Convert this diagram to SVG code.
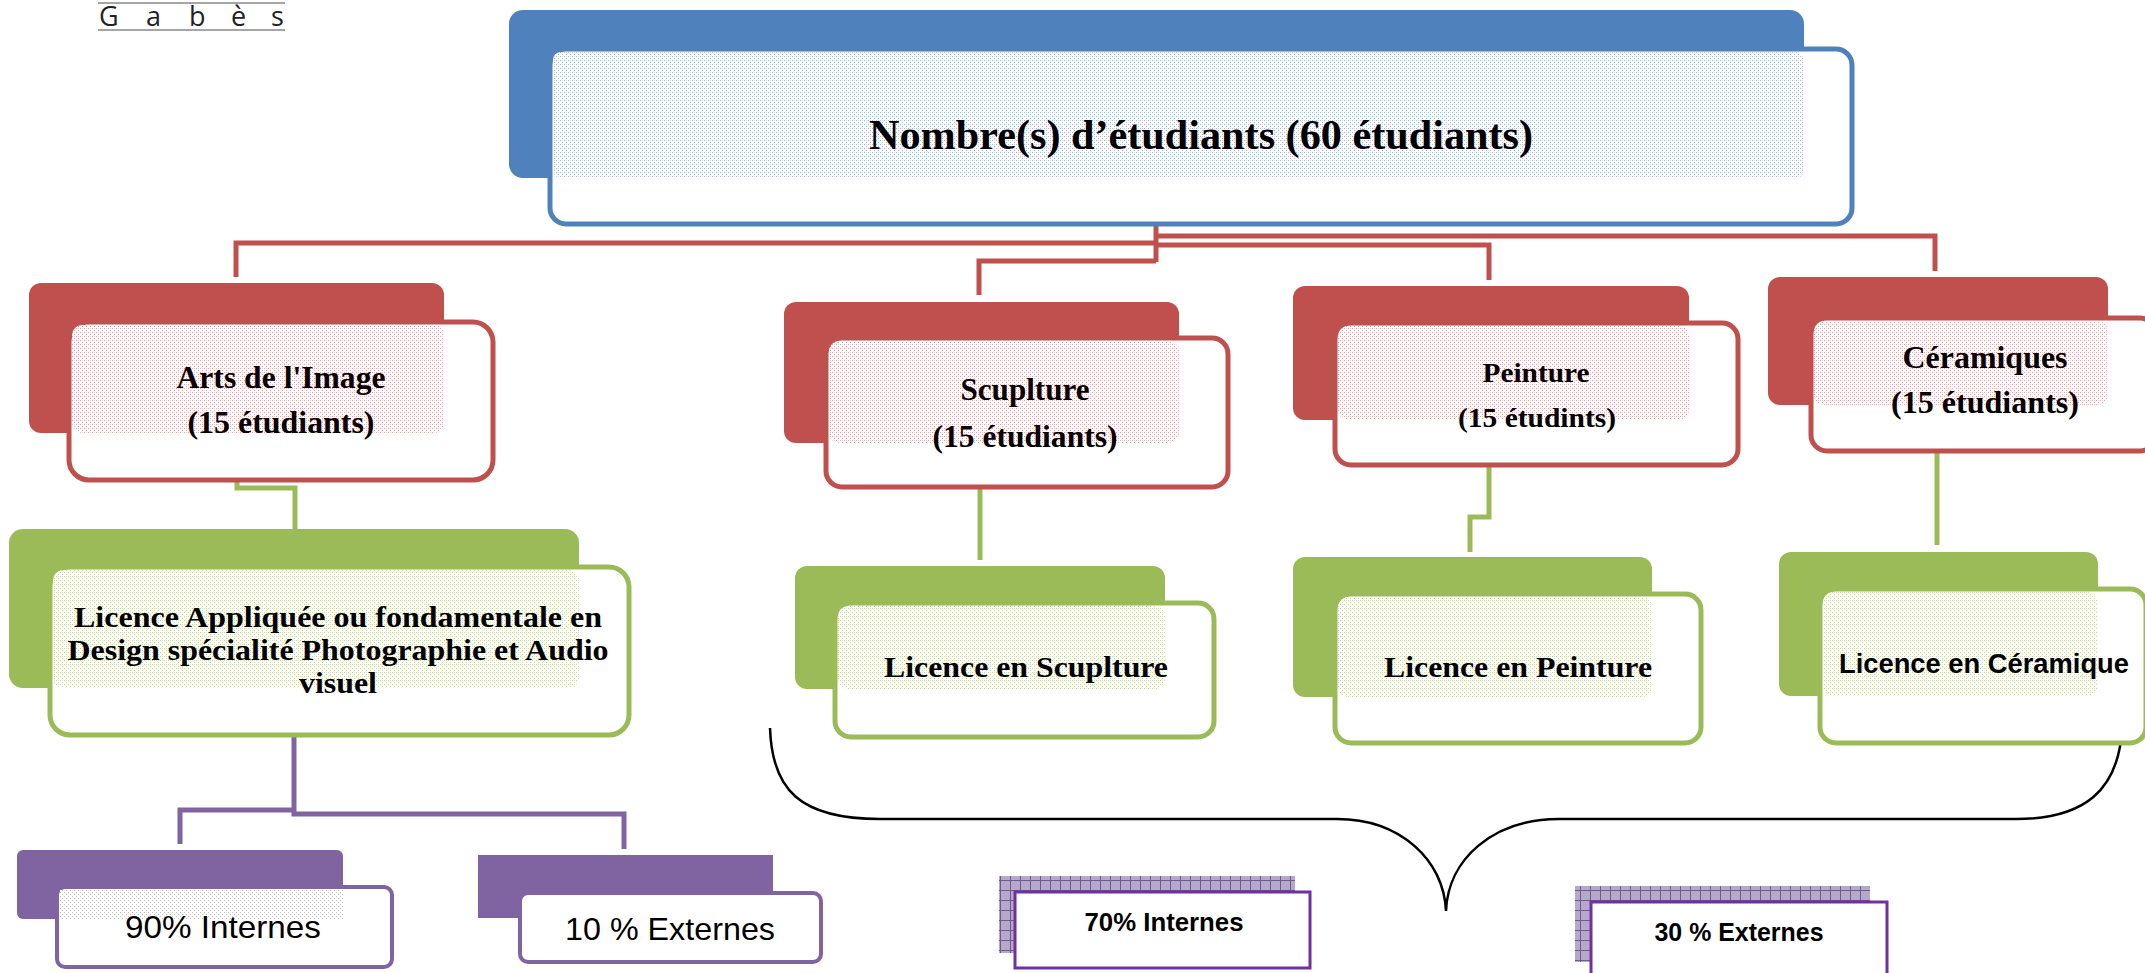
<svg xmlns="http://www.w3.org/2000/svg" width="2145" height="973" viewBox="0 0 2145 973">
<style>
.serif{font-family:"Liberation Serif","Times New Roman",serif;font-weight:bold;fill:#000;text-anchor:middle}
.sans{font-family:"Liberation Sans",Arial,sans-serif;fill:#000;text-anchor:middle}
.b{fill:#4F81BD}.r{fill:#C0504D}.g{fill:#9BBB59}.p{fill:#8064A2}
.fb{fill:#fff;stroke:#4F81BD;stroke-width:5}
.fr{fill:#fff;stroke:#C0504D;stroke-width:5}
.fg{fill:#fff;stroke:#9BBB59;stroke-width:5}
.fp{fill:#fff;stroke:#8064A2;stroke-width:4}
.fv{fill:#fff;stroke:#7030A0;stroke-width:3}
.cr{fill:none;stroke:#C0504D;stroke-width:5}
.cg{fill:none;stroke:#9BBB59;stroke-width:5}
.cp{fill:none;stroke:#8064A2;stroke-width:5}
.faint{fill:none;stroke-width:2;stroke-dasharray:1 2;opacity:0.5}
</style>
<defs>
<pattern id="pb" width="4" height="4" patternUnits="userSpaceOnUse"><rect width="4" height="4" fill="#fff"/><rect width="1" height="1" fill="#9fb8dc"/><rect x="2" y="2" width="1" height="1" fill="#9fb8dc"/><rect x="2" y="0" width="1" height="1" fill="#d5e0ef"/></pattern>
<pattern id="pr" width="4" height="4" patternUnits="userSpaceOnUse"><rect width="4" height="4" fill="#fff"/><rect width="1" height="1" fill="#e3a3a1"/><rect x="2" y="2" width="1" height="1" fill="#e3a3a1"/><rect x="2" y="0" width="1" height="1" fill="#f2d3d2"/></pattern>
<pattern id="pg" width="4" height="4" patternUnits="userSpaceOnUse"><rect width="4" height="4" fill="#fff"/><rect width="1" height="1" fill="#c4d79c"/><rect x="2" y="2" width="1" height="1" fill="#c4d79c"/><rect x="2" y="0" width="1" height="1" fill="#e3ecd0"/></pattern>
<pattern id="pk" width="4" height="4" patternUnits="userSpaceOnUse"><rect width="4" height="4" fill="#fff"/><rect width="1" height="1" fill="#c0c0c0"/><rect x="2" y="2" width="1" height="1" fill="#c0c0c0"/></pattern>
<pattern id="grid" width="10" height="10" patternUnits="userSpaceOnUse"><rect width="10" height="10" fill="#b6a8ca"/><path d="M0 0.5H10M0.5 0V10" stroke="#6e5a8c" stroke-width="1"/></pattern>
</defs>

<g id="header">
<line x1="98" y1="3" x2="285" y2="3" stroke="#888" stroke-width="1.5"/>
<line x1="98" y1="30" x2="285" y2="30" stroke="#888" stroke-width="1.5"/>
<text x="99 146 189 231 271" y="26" font-family="'Open Sans','Noto Sans',sans-serif" font-size="27" fill="#222">Gabès</text>
</g>

<g id="connectors">
<path class="faint" stroke="#d88" d="M1156 180V221"/>
<path class="cr" d="M1156 223V262"/>
<path class="cr" d="M1156 243H236V277"/>
<path class="cr" d="M1156 261H979V295"/>
<path class="cr" d="M1156 245H1489V280"/>
<path class="cr" d="M1156 236H1935V271"/>
<path class="faint" stroke="#9BBB59" d="M237 440V479"/>
<path class="cg" d="M237 482V488H295V529"/>
<path class="faint" stroke="#9BBB59" d="M980 450V486"/>
<path class="cg" d="M980 489V560"/>
<path class="faint" stroke="#9BBB59" d="M1489 430V462"/>
<path class="cg" d="M1489 465V517H1470V552"/>
<path class="faint" stroke="#9BBB59" d="M1937 420V448"/>
<path class="cg" d="M1937 452V545"/>
<path class="faint" stroke="#a090c0" d="M294 693V732"/>
<path class="cp" d="M294 736V814H624V849"/>
<path class="cp" d="M294 810H180V844"/>
<path d="M770 728C772 790 800 819 880 819H1337C1400 819 1444 860 1446 911C1448 860 1492 819 1559 819H2016C2085 819 2118 790 2122 730" fill="none" stroke="#000" stroke-width="2.5"/>
</g>

<g id="n-total">
<rect class="b" x="509" y="10" width="1295" height="168" rx="14"/>
<rect class="fb" x="550" y="49" width="1302" height="175" rx="16"/>
<rect fill="url(#pb)" x="553" y="52" width="1251" height="126" rx="8"/>
<text class="serif" x="1201" y="149" font-size="42" textLength="664" lengthAdjust="spacingAndGlyphs">Nombre(s) d’étudiants (60 étudiants)</text>
</g>

<g id="n-arts">
<rect class="r" x="29" y="283" width="415" height="150" rx="12"/>
<rect class="fr" x="69" y="322" width="424" height="158" rx="20"/>
<rect fill="url(#pr)" x="72" y="325" width="372" height="108" rx="10"/>
<text class="serif" x="281" y="388" font-size="31" textLength="209" lengthAdjust="spacingAndGlyphs">Arts de l'Image</text>
<text class="serif" x="281" y="433" font-size="31" textLength="187" lengthAdjust="spacingAndGlyphs">(15 étudiants)</text>
</g>

<g id="n-sculpture">
<rect class="r" x="784" y="302" width="395" height="141" rx="12"/>
<rect class="fr" x="826" y="338" width="402" height="149" rx="16"/>
<rect fill="url(#pr)" x="829" y="341" width="350" height="102" rx="10"/>
<text class="serif" x="1025" y="400" font-size="31" textLength="129" lengthAdjust="spacingAndGlyphs">Scuplture</text>
<text class="serif" x="1025" y="447" font-size="31" textLength="185" lengthAdjust="spacingAndGlyphs">(15 étudiants)</text>
</g>

<g id="n-peinture">
<rect class="r" x="1293" y="286" width="396" height="134" rx="12"/>
<rect class="fr" x="1335" y="323" width="403" height="142" rx="16"/>
<rect fill="url(#pr)" x="1338" y="326" width="351" height="94" rx="10"/>
<text class="serif" x="1536" y="382" font-size="27" textLength="107" lengthAdjust="spacingAndGlyphs">Peinture</text>
<text class="serif" x="1537" y="427" font-size="27" textLength="158" lengthAdjust="spacingAndGlyphs">(15 étudints)</text>
</g>

<g id="n-ceramiques">
<rect class="r" x="1768" y="277" width="340" height="128" rx="12"/>
<rect class="fr" x="1811" y="318" width="345" height="133" rx="16"/>
<rect fill="url(#pr)" x="1814" y="321" width="294" height="84" rx="10"/>
<text class="serif" x="1985" y="368" font-size="32" textLength="165" lengthAdjust="spacingAndGlyphs">Céramiques</text>
<text class="serif" x="1985" y="413" font-size="32" textLength="188" lengthAdjust="spacingAndGlyphs">(15 étudiants)</text>
</g>

<g id="n-licence-image">
<rect class="g" x="9" y="529" width="570" height="159" rx="14"/>
<rect class="fg" x="50" y="567" width="579" height="168" rx="20"/>
<rect fill="url(#pg)" x="53" y="570" width="526" height="118" rx="10"/>
<text class="serif" x="338" y="627" font-size="30" textLength="528" lengthAdjust="spacingAndGlyphs">Licence Appliquée ou fondamentale en</text>
<text class="serif" x="338" y="660" font-size="30" textLength="541" lengthAdjust="spacingAndGlyphs">Design spécialité Photographie et Audio</text>
<text class="serif" x="338" y="693" font-size="30" textLength="78" lengthAdjust="spacingAndGlyphs">visuel</text>
</g>

<g id="n-licence-sculpture">
<rect class="g" x="795" y="566" width="370" height="123" rx="12"/>
<rect class="fg" x="835" y="603" width="379" height="134" rx="16"/>
<rect fill="url(#pg)" x="838" y="606" width="327" height="83" rx="10"/>
<text class="serif" x="1026" y="677" font-size="30" textLength="284" lengthAdjust="spacingAndGlyphs">Licence en Scuplture</text>
</g>

<g id="n-licence-peinture">
<rect class="g" x="1293" y="557" width="359" height="140" rx="12"/>
<rect class="fg" x="1335" y="594" width="366" height="149" rx="16"/>
<rect fill="url(#pg)" x="1338" y="597" width="314" height="100" rx="10"/>
<text class="serif" x="1518" y="677" font-size="30" textLength="268" lengthAdjust="spacingAndGlyphs">Licence en Peinture</text>
</g>

<g id="n-licence-ceramique">
<rect class="g" x="1779" y="552" width="319" height="144" rx="12"/>
<rect class="fg" x="1820" y="589" width="326" height="154" rx="16"/>
<rect fill="url(#pg)" x="1823" y="592" width="275" height="104" rx="10"/>
<text class="sans" x="1984" y="673" font-size="27" font-weight="bold" textLength="290" lengthAdjust="spacingAndGlyphs">Licence en Céramique</text>
</g>

<g id="n-90-internes">
<rect class="p" x="17" y="850" width="326" height="69" rx="6"/>
<rect class="fp" x="57" y="887" width="335" height="80" rx="8"/>
<rect fill="url(#pk)" x="60" y="890" width="283" height="29"/>
<text class="sans" x="223" y="938" font-size="32" textLength="196" lengthAdjust="spacingAndGlyphs">90% Internes</text>
</g>

<g id="n-10-externes">
<rect class="p" x="478" y="855" width="295" height="63"/>
<rect class="fp" x="520" y="893" width="301" height="69" rx="8"/>
<text class="sans" x="670" y="940" font-size="32" textLength="210" lengthAdjust="spacingAndGlyphs">10 % Externes</text>
</g>

<g id="n-70-internes">
<rect fill="url(#grid)" x="999" y="876" width="296" height="77"/>
<rect class="fv" x="1015" y="892" width="295" height="76"/>
<text class="sans" x="1164" y="931" font-size="26" font-weight="bold" textLength="159" lengthAdjust="spacingAndGlyphs">70% Internes</text>
</g>

<g id="n-30-externes">
<rect fill="url(#grid)" x="1575" y="886" width="295" height="76"/>
<rect class="fv" x="1591" y="902" width="296" height="80"/>
<text class="sans" x="1739" y="941" font-size="26" font-weight="bold" textLength="169" lengthAdjust="spacingAndGlyphs">30 % Externes</text>
</g>
</svg>
